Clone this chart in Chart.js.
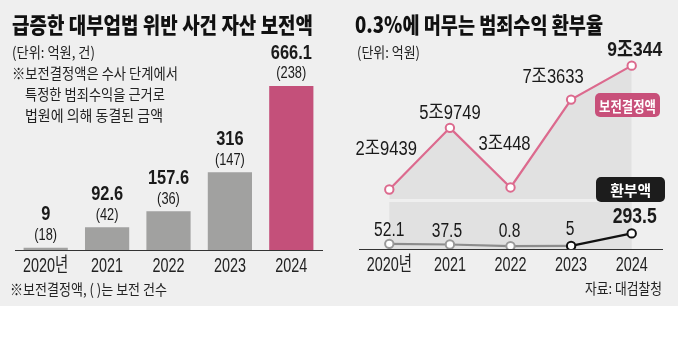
<!DOCTYPE html>
<html>
<head>
<meta charset="utf-8">
<script src="https://cdn.jsdelivr.net/npm/chart.js@4.4.1/dist/chart.umd.min.js"></script>
<style>
body { margin: 0; background: #fff; width: 678px; height: 351px; overflow: hidden; font-family: 'Noto Sans CJK KR', sans-serif; }
#wrap { position: relative; width: 678px; height: 306px; background: #efefef; }
canvas { position: absolute; top: 0; }
.t { position: absolute; white-space: nowrap; transform-origin: 0 50%; color: #222; font-size: 15px; line-height: 20px; height: 20px; }
.title { font-size: 22px; font-weight: 900; color: #111; line-height: 24px; height: 24px; }
.badge { position: absolute; border-radius: 5px; color: #fff; font-weight: 700; font-size: 15px; display: flex; align-items: center; justify-content: center; }
.badge span { white-space: nowrap; display: inline-block; }
</style>
</head>
<body>
<div id="wrap">
  <canvas id="barChart" width="339" height="306" style="left:0"></canvas>
  <canvas id="lineChart" width="339" height="306" style="left:339px"></canvas>

  <div class="t title" style="left:12px;top:11px" data-w="301">급증한 대부업법 위반 사건 자산 보전액</div>
  <div class="t" style="left:12px;top:42px" data-w="83">(단위: 억원, 건)</div>
  <div class="t" style="left:12px;top:63px" data-w="166">※보전결정액은 수사 단계에서</div>
  <div class="t" style="left:25px;top:84px" data-w="140">특정한 범죄수익을 근거로</div>
  <div class="t" style="left:25px;top:105px" data-w="138">법원에 의해 동결된 금액</div>
  <div class="t" style="left:10px;top:279px" data-w="157">※보전결정액, ( )는 보전 건수</div>

  <div class="t title" style="left:355px;top:11px" data-w="248">0.3%에 머무는 범죄수익 환부율</div>
  <div class="t" style="left:357px;top:42px" data-w="63">(단위: 억원)</div>
  <div class="t" style="left:585px;top:278px" data-w="77">자료: 대검찰청</div>

  <div class="badge" style="left:595px;top:93px;width:65px;height:24px;background:#c8507a"><span data-w="57">보전결정액</span></div>
  <div class="badge" style="left:596px;top:177px;width:69px;height:25px;background:#1c1c1c"><span data-w="41">환부액</span></div>
</div>

<script>
// 데이터
const years = ['2020년', '2021', '2022', '2023', '2024'];
const freezeAmount = [9, 92.6, 157.6, 316, 666.1];      // 보전결정액 (억원)
const freezeCases = [18, 42, 36, 147, 238];              // 보전 건수
const freezeTotal = [29439, 59749, 30448, 73633, 90344]; // 보전결정액 (억원)
const refundAmount = [52.1, 37.5, 0.8, 5, 293.5];        // 환부액 (억원)

// 라벨 위치 (점 기준 dx, dy)
const freezeLabelOffset = [[-3, -40], [0, -14], [-6, -43], [-18, -22], [3, -15]];
const refundLabelOffset = [[0, -13], [-3, -13], [-1, -15], [-1, -16], [3, -16]];
const fillBase = 24760; // 보전결정액 음영 바닥
const bandTop = 1017;   // 환부액 음영 윗선

const LABEL_FONT = "'Liberation Sans', 'Noto Sans CJK KR', sans-serif";

// 텍스트 폭 맞추기
document.querySelectorAll('[data-w]').forEach(el => {
    const w = el.getBoundingClientRect().width;
    el.style.transform = 'scaleX(' + (parseFloat(el.dataset.w) / w) + ')';
    if (el.tagName === 'SPAN') el.style.transformOrigin = '50% 50%';
});

function toJo(v) {
    return Math.floor(v / 10000) + '조' + (v % 10000);
}

function drawLabel(ctx, text, x, y, size, bold, sx, color) {
    ctx.save();
    ctx.translate(x, y);
    ctx.scale(sx, 1);
    ctx.font = (bold ? 'bold ' : '') + size + 'px ' + LABEL_FONT;
    ctx.fillStyle = color || '#1a1a1a';
    ctx.textAlign = 'center';
    ctx.textBaseline = 'middle';
    ctx.fillText(text, 0, 0);
    ctx.restore();
}

// x축 눈금 글자 (좁은 글꼴)
const narrowTicks = {
    id: 'narrowTicks',
    afterDraw(chart) {
        const x = chart.scales.x;
        years.forEach((y, i) => {
            drawLabel(chart.ctx, y, x.getPixelForValue(i), chart.chartArea.bottom + 16, 20, false, 0.72, '#222');
        });
    }
};

const barLabels = {
    id: 'barLabels',
    afterDatasetsDraw(chart) {
        const ctx = chart.ctx;
        chart.getDatasetMeta(0).data.forEach((bar, i) => {
            drawLabel(ctx, String(freezeAmount[i]), bar.x, bar.y - 33, 20, true, 0.82);
            drawLabel(ctx, '(' + freezeCases[i] + ')', bar.x, bar.y - 12, 16, false, 0.8);
        });
    }
};

const lineLabels = {
    id: 'lineLabels',
    beforeDatasetsDraw(chart) {
        const {ctx, chartArea} = chart;
        const x = chart.scales.x, yB = chart.scales.yB;
        const left = x.getPixelForValue(0);
        const right = x.getPixelForValue(years.length - 1);
        const top = yB.getPixelForValue(bandTop);
        ctx.save();
        ctx.fillStyle = '#e1e1e1';
        ctx.fillRect(left, top, right - left, chartArea.bottom - top);
        ctx.restore();
    },
    afterDatasetsDraw(chart) {
        const ctx = chart.ctx;
        const last = years.length - 1;
        chart.getDatasetMeta(0).data.forEach((pt, i) => {
            const [dx, dy] = freezeLabelOffset[i];
            if (i === last) drawLabel(ctx, toJo(freezeTotal[i]), pt.x + dx, pt.y + dy, 21, true, 0.83);
            else drawLabel(ctx, toJo(freezeTotal[i]), pt.x + dx, pt.y + dy, 20, false, 0.83);
        });
        chart.getDatasetMeta(1).data.forEach((pt, i) => {
            const [dx, dy] = refundLabelOffset[i];
            if (i === last) drawLabel(ctx, String(refundAmount[i]), pt.x + dx, pt.y + dy, 22, true, 0.8);
            else drawLabel(ctx, String(refundAmount[i]), pt.x + dx, pt.y + dy, 20, false, 0.78);
        });
    }
};

const xAxis = (height) => ({
    offset: true,
    grid: { display: true, drawOnChartArea: false, drawTicks: false },
    border: { display: true, color: '#333', width: 1 },
    ticks: { display: false },
    afterFit(scale) { scale.height = height; }
});

new Chart(document.getElementById('barChart'), {
    type: 'bar',
    data: {
        labels: years,
        datasets: [{
            data: freezeAmount,
            backgroundColor: ['#a1a1a0', '#a1a1a0', '#a1a1a0', '#a1a1a0', '#c4507a'],
            barPercentage: 0.72,
            categoryPercentage: 1
        }]
    },
    options: {
        responsive: false,
        animation: false,
        layout: { padding: { left: 15, right: 17, top: 40, bottom: 0 } },
        scales: {
            x: xAxis(56),
            y: { display: false, min: 0, max: 853 }
        },
        plugins: { legend: { display: false }, tooltip: { enabled: false } }
    },
    plugins: [barLabels, narrowTicks]
});

new Chart(document.getElementById('lineChart'), {
    type: 'line',
    data: {
        labels: years,
        datasets: [{
            data: freezeTotal,
            yAxisID: 'yT',
            borderColor: '#dc6a8e',
            borderWidth: 2.2,
            pointRadius: 4.2,
            pointBorderWidth: 2,
            pointBackgroundColor: '#fff',
            pointBorderColor: '#dc6a8e',
            backgroundColor: '#e1e1e1',
            fill: { value: fillBase }
        }, {
            data: refundAmount,
            yAxisID: 'yB',
            borderWidth: 2.2,
            pointRadius: 4.2,
            pointBorderWidth: 2,
            pointBackgroundColor: '#fff',
            pointBorderColor: ['#999', '#999', '#999', '#111', '#111'],
            segment: {
                borderColor: ctx => ctx.p1DataIndex === years.length - 1 ? '#111' : '#8c8c8c'
            },
            fill: false
        }]
    },
    options: {
        responsive: false,
        animation: false,
        layout: { padding: { left: 20, right: 16, top: 40, bottom: 0 } },
        scales: {
            x: xAxis(57),
            yT: { display: false, min: 173, max: 102946 },
            yB: { display: false, min: -66, max: 4750 }
        },
        plugins: { legend: { display: false }, tooltip: { enabled: false } }
    },
    plugins: [lineLabels, narrowTicks]
});
</script>
</body>
</html>
